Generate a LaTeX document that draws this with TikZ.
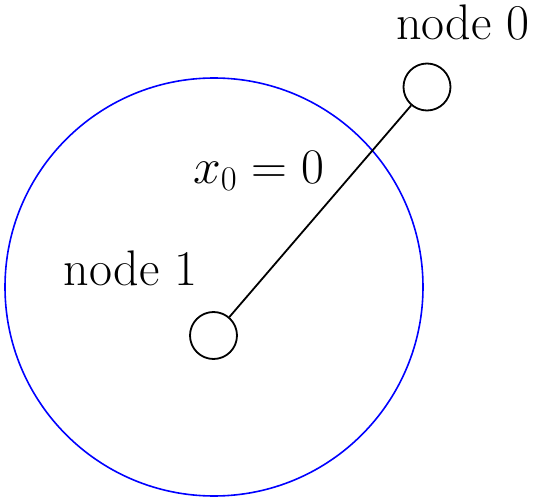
\documentclass[tikz,border=0pt]{standalone}
\begin{document}
\begin{tikzpicture}[x=0.5pt,y=-0.5pt,
  graphnode/.style={circle,draw=black,line width=0.9pt,minimum size=23.5pt,inner sep=0pt},
  lbl/.style={anchor=base,inner sep=0pt,font=\fontsize{25}{30}\selectfont}]
\useasboundingbox (0,0) rectangle (538,504);
\draw[blue,line width=0.8pt] (214,287) circle[radius=104.5pt];
\node[graphnode] (n0) at (427,87) {};
\node[graphnode] (n1) at (213.5,335.5) {};
\draw[line width=0.9pt] (n1) -- (n0);
\node[lbl] (l0) at (463,39.3) {node 0};
\node[lbl] (l1) at (130.8,285.7) {node 1};
\node[lbl] (lx) at (258.5,183) {$x_0=0$};
\end{tikzpicture}
\end{document}
